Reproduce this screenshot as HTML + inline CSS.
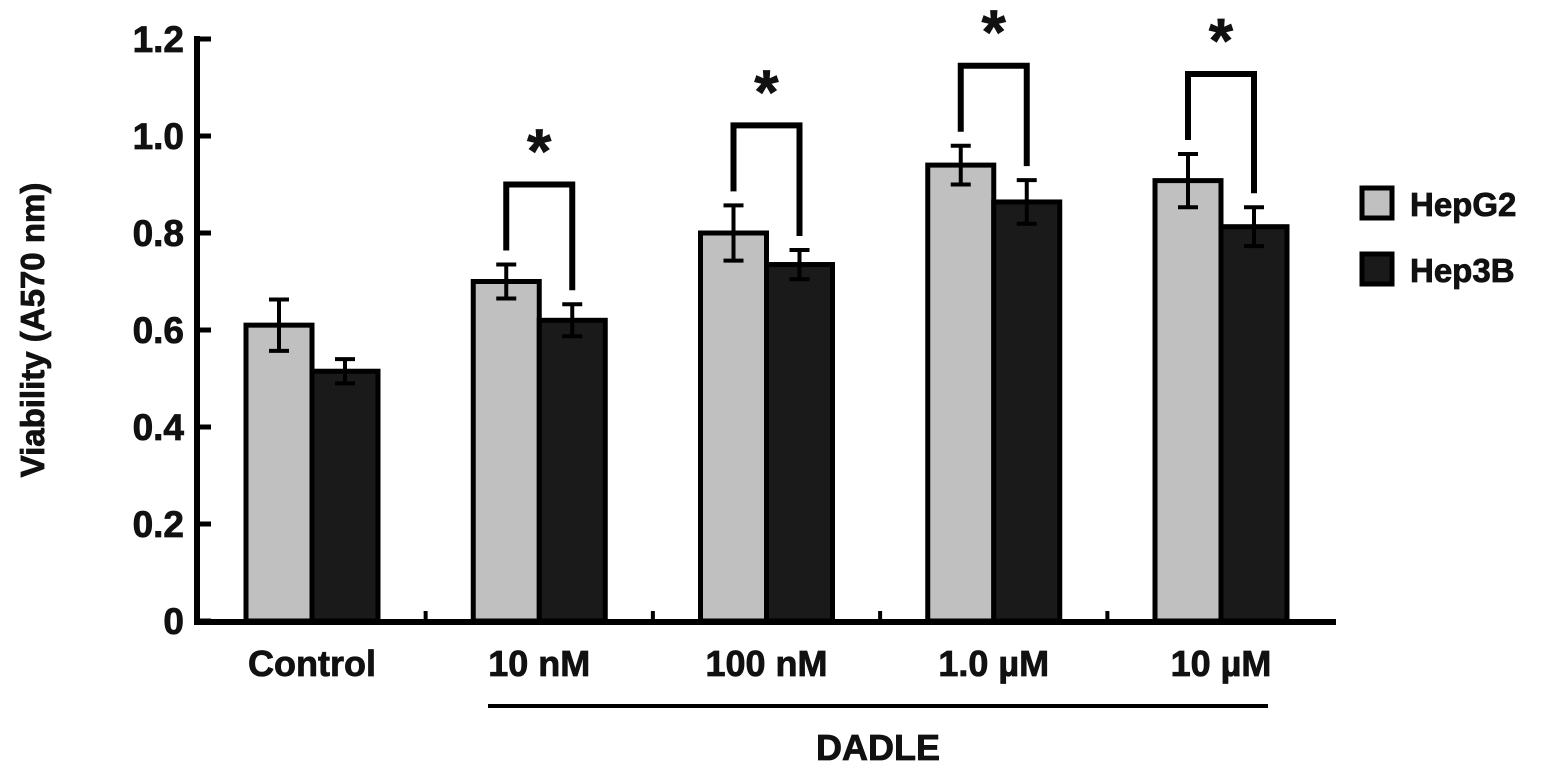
<!DOCTYPE html>
<html><head><meta charset="utf-8"><style>
body{margin:0;background:#fff}
svg text{font-family:"Liberation Sans",Arial,sans-serif;font-weight:bold;fill:#111;stroke:#111;stroke-width:0.8px}
</style></head><body>
<svg id="chart" width="1559" height="776" viewBox="0 0 1559 776" xmlns="http://www.w3.org/2000/svg"></svg>
<script>
const categories = ["Control","10 nM","100 nM","1.0 µM","10 µM"];
const hepg2 = [0.61,0.70,0.80,0.94,0.908];
const hepg2Err = [0.053,0.035,0.057,0.04,0.055];
const hep3b = [0.515,0.62,0.735,0.864,0.813];
const hep3bErr = [0.025,0.033,0.03,0.045,0.04];
const significant = [false,true,true,true,true];
const yTicks = [0,0.2,0.4,0.6,0.8,1.0,1.2];
const yTickLabels = ["0","0.2","0.4","0.6","0.8","1.0","1.2"];

const svg = document.getElementById('chart');
const NS = 'http://www.w3.org/2000/svg';
function el(tag, attrs, parent){const e=document.createElementNS(NS,tag);for(const k in attrs)e.setAttribute(k,attrs[k]);(parent||svg).appendChild(e);return e;}
const y0=621, yScale=485;
function y(v){return y0-v*yScale;}
const gx0=312, gStep=227.25, bw=66;
function gx(i){return gx0+i*gStep;}

let a=el('line',{x1:197,y1:y(1.2)-3,x2:197,y2:624,stroke:'#000','stroke-width':6});


yTicks.forEach((t,i)=>{
  let tk=el('line',{x1:197,y1:y(t),x2:211,y2:y(t),stroke:'#000','stroke-width':5});
  
  
  let tx=el('text',{x:184,y:y(t)+13,'text-anchor':'end','font-size':37});
  tx.textContent=yTickLabels[i];
  
  
});
let yl=el('text',{x:0,y:0,'text-anchor':'middle','font-size':33,transform:'translate(44,330) rotate(-90)'});
yl.textContent='Viability (A570 nm)';



categories.forEach((c,i)=>{
  const cx=gx(i);
  let b1=el('rect',{x:cx-bw,y:y(hepg2[i]),width:bw,height:y0-y(hepg2[i]),fill:'#c0c0c0',stroke:'#000','stroke-width':5});
  
  
  let b2=el('rect',{x:cx,y:y(hep3b[i]),width:bw,height:y0-y(hep3b[i]),fill:'#1a1a1a',stroke:'#000','stroke-width':5});
  
  
  [[cx-bw/2,hepg2[i],hepg2Err[i]],[cx+bw/2,hep3b[i],hep3bErr[i]]].forEach(([ex,v,e])=>{
    const g=el('g',{stroke:'#000','stroke-width':4});
    
    
    el('line',{x1:ex,y1:y(v+e),x2:ex,y2:y(v-e)},g);
    el('line',{x1:ex-10,y1:y(v+e),x2:ex+10,y2:y(v+e)},g);
    el('line',{x1:ex-10,y1:y(v-e),x2:ex+10,y2:y(v-e)},g);
  });
  let lab=el('text',{x:cx,y:676,'text-anchor':'middle','font-size':36});
  lab.textContent=c;
  
  
  if(significant[i]){
    const lx=cx-bw/2, rx=cx+bw/2;
    const lTop=y(hepg2[i]+hepg2Err[i]), rTop=y(hep3b[i]+hep3bErr[i]);
    const top=lTop-80;
    let br=el('polyline',{points:`${lx},${lTop-14} ${lx},${top} ${rx},${top} ${rx},${rTop-14}`,fill:'none',stroke:'#000','stroke-width':6});
    
    
    let st=el('text',{x:cx,y:top-12,'text-anchor':'middle','font-size':62});
    st.textContent='*';
    
    
  }
  if(i<categories.length-1){
    let ct=el('line',{x1:cx+gStep/2,y1:624,x2:cx+gStep/2,y2:611,stroke:'#000','stroke-width':4});
    
    
  }
});
let xa=el('line',{x1:194,y1:622,x2:1336,y2:622,stroke:'#000','stroke-width':6});


let dl=el('line',{x1:488,y1:706,x2:1268,y2:706,stroke:'#000','stroke-width':4});


let dt=el('text',{x:878,y:760,'text-anchor':'middle','font-size':36});
dt.textContent='DADLE';



let lg=el('g',{});


let r1=el('rect',{x:1362,y:188,width:30,height:30,fill:'#c0c0c0',stroke:'#000','stroke-width':5},lg);


let t1=el('text',{x:1410,y:216,'font-size':33},lg);
t1.textContent='HepG2';


let r2=el('rect',{x:1362,y:254,width:30,height:30,fill:'#1a1a1a',stroke:'#000','stroke-width':5},lg);


let t2=el('text',{x:1410,y:282,'font-size':33},lg);
t2.textContent='Hep3B';


</script>
</body></html>
